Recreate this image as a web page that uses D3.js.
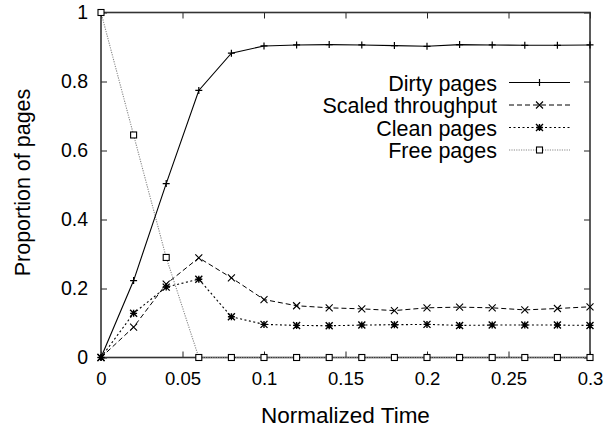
<!DOCTYPE html>
<html>
<head>
<meta charset="utf-8">
<script src="https://cdn.jsdelivr.net/npm/d3@7"></script>
<style>
  body { margin: 0; background: #fff; }
  svg { display: block; font-family: "Liberation Sans", Arial, sans-serif; }
</style>
</head>
<body>
<div id="chart"></div>
<script>
// sample times
const times = [0, 0.02, 0.04, 0.06, 0.08, 0.1, 0.12, 0.14, 0.16, 0.18, 0.2, 0.22, 0.24, 0.26, 0.28, 0.3];

// series values
const dirtyPages = [0, 0.223, 0.504, 0.774, 0.882, 0.903, 0.906, 0.907, 0.906, 0.904, 0.902, 0.907, 0.906, 0.905, 0.905, 0.906];
const scaledThroughput = [0, 0.088, 0.213, 0.289, 0.231, 0.168, 0.150, 0.144, 0.141, 0.136, 0.144, 0.146, 0.144, 0.138, 0.142, 0.147];
const cleanPages = [0, 0.128, 0.204, 0.227, 0.118, 0.096, 0.093, 0.092, 0.094, 0.095, 0.096, 0.093, 0.094, 0.094, 0.094, 0.093];
const freePages = [1, 0.645, 0.29, 0, 0, 0, 0, 0, 0, 0, 0, 0, 0, 0, 0, 0];

const seriesNames = ["Dirty pages", "Scaled throughput", "Clean pages", "Free pages"];
const xTicks = [0, 0.05, 0.1, 0.15, 0.2, 0.25, 0.3];
const yTicks = [0, 0.2, 0.4, 0.6, 0.8, 1];

const width = 614, height = 429;
const marginTop = 12.5, marginRight = 24, marginBottom = 71.5, marginLeft = 101;
const font = "Liberation Sans, Arial, sans-serif";

const series = [
  {name: seriesNames[0], values: dirtyPages, dash: null, stroke: "#000", sw: 1.1, mark: "plus"},
  {name: seriesNames[1], values: scaledThroughput, dash: "5,3", stroke: "#000", sw: 1, mark: "cross"},
  {name: seriesNames[2], values: cleanPages, dash: "2,2.5", stroke: "#000", sw: 1.1, mark: "star"},
  {name: seriesNames[3], values: freePages, dash: "1.2,1.2", stroke: "#888", sw: 1.1, mark: "box"}
];

const x = d3.scaleLinear().domain([0, 0.3]).range([marginLeft, width - marginRight]);
const y = d3.scaleLinear().domain([0, 1]).range([height - marginBottom, marginTop]);

const svg = d3.select("#chart").append("svg")
    .attr("width", width)
    .attr("height", height)
    .attr("viewBox", [0, 0, width, height]);

const fmt = d => d === 0 ? "0" : String(+d.toFixed(2));

// inward ticks on all four sides
svg.append("g")
    .attr("transform", `translate(0,${height - marginBottom})`)
    .call(d3.axisBottom(x).tickValues(xTicks).tickFormat(fmt).tickSizeInner(-6).tickSizeOuter(0).tickPadding(14))
    .call(g => g.select(".domain").remove())
    .call(g => g.selectAll(".tick line").attr("stroke", "#222"))
    .call(g => g.selectAll(".tick text").attr("font-size", 18.5).attr("font-family", font).attr("fill", "#000"));

svg.append("g")
    .attr("transform", `translate(0,${marginTop})`)
    .call(d3.axisTop(x).tickValues(xTicks).tickFormat("").tickSizeInner(-6).tickSizeOuter(0))
    .call(g => g.select(".domain").remove())
    .call(g => g.selectAll(".tick line").attr("stroke", "#222"));

svg.append("g")
    .attr("transform", `translate(${marginLeft},0)`)
    .call(d3.axisLeft(y).tickValues(yTicks).tickFormat(fmt).tickSizeInner(-6).tickSizeOuter(0).tickPadding(13))
    .call(g => g.select(".domain").remove())
    .call(g => g.selectAll(".tick line").attr("stroke", "#222"))
    .call(g => g.selectAll(".tick text").attr("font-size", 19.5).attr("font-family", font).attr("fill", "#000"));

svg.append("g")
    .attr("transform", `translate(${width - marginRight},0)`)
    .call(d3.axisRight(y).tickValues(yTicks).tickFormat("").tickSizeInner(-6).tickSizeOuter(0))
    .call(g => g.select(".domain").remove())
    .call(g => g.selectAll(".tick line").attr("stroke", "#222"));

// frame
svg.append("rect")
    .attr("x", marginLeft)
    .attr("y", marginTop)
    .attr("width", width - marginLeft - marginRight)
    .attr("height", height - marginTop - marginBottom)
    .attr("fill", "none")
    .attr("stroke", "#333")
    .attr("stroke-width", 1.6);

// axis titles
svg.append("text")
    .attr("x", (marginLeft + width - marginRight) / 2)
    .attr("y", 423)
    .attr("text-anchor", "middle")
    .attr("font-size", 22.5)
    .text("Normalized Time");

svg.append("text")
    .attr("transform", `translate(30,182.5) rotate(-90)`)
    .attr("text-anchor", "middle")
    .attr("font-size", 21.5)
    .text("Proportion of pages");

function drawMark(g, type, cx, cy, color) {
  const s = 3.5;
  if (type === "plus") {
    g.append("path").attr("d", `M${cx - s},${cy}H${cx + s}M${cx},${cy - s}V${cy + s}`)
      .attr("stroke", color).attr("stroke-width", 1.2);
  } else if (type === "cross") {
    g.append("path").attr("d", `M${cx - s},${cy - s}L${cx + s},${cy + s}M${cx - s},${cy + s}L${cx + s},${cy - s}`)
      .attr("stroke", color).attr("stroke-width", 1.1);
  } else if (type === "star") {
    g.append("path").attr("d", `M${cx - s},${cy}H${cx + s}M${cx},${cy - s}V${cy + s}M${cx - s},${cy - s}L${cx + s},${cy + s}M${cx - s},${cy + s}L${cx + s},${cy - s}`)
      .attr("stroke", color).attr("stroke-width", 1.4);
  } else if (type === "box") {
    const b = 3;
    g.append("rect").attr("x", cx - b).attr("y", cy - b).attr("width", 2 * b).attr("height", 2 * b)
      .attr("fill", "#fff").attr("stroke", "#000").attr("stroke-width", 1.1);
  }
}

const line = d3.line()
    .x((d, i) => x(times[i]))
    .y(d => y(d));

// draw in reverse so dirty pages sit on top
for (const s of series.slice().reverse()) {
  svg.append("path")
      .attr("d", line(s.values))
      .attr("fill", "none")
      .attr("stroke", s.stroke)
      .attr("stroke-width", s.sw)
      .attr("stroke-dasharray", s.dash);
  const gm = svg.append("g");
  s.values.forEach((v, i) => drawMark(gm, s.mark, x(times[i]), y(v), "#000"));
}

// legend
const legend = svg.append("g");
series.forEach((s, i) => {
  const cy = 82.5 + i * 22.5;
  legend.append("text")
      .attr("x", 497)
      .attr("y", cy + 8)
      .attr("text-anchor", "end")
      .attr("font-size", 21.5)
      .text(s.name);
  legend.append("line")
      .attr("x1", 509).attr("x2", 570)
      .attr("y1", cy).attr("y2", cy)
      .attr("stroke", s.stroke)
      .attr("stroke-width", s.sw)
      .attr("stroke-dasharray", s.dash);
  drawMark(legend, s.mark, 539.5, cy, "#000");
});
</script>
</body>
</html>
